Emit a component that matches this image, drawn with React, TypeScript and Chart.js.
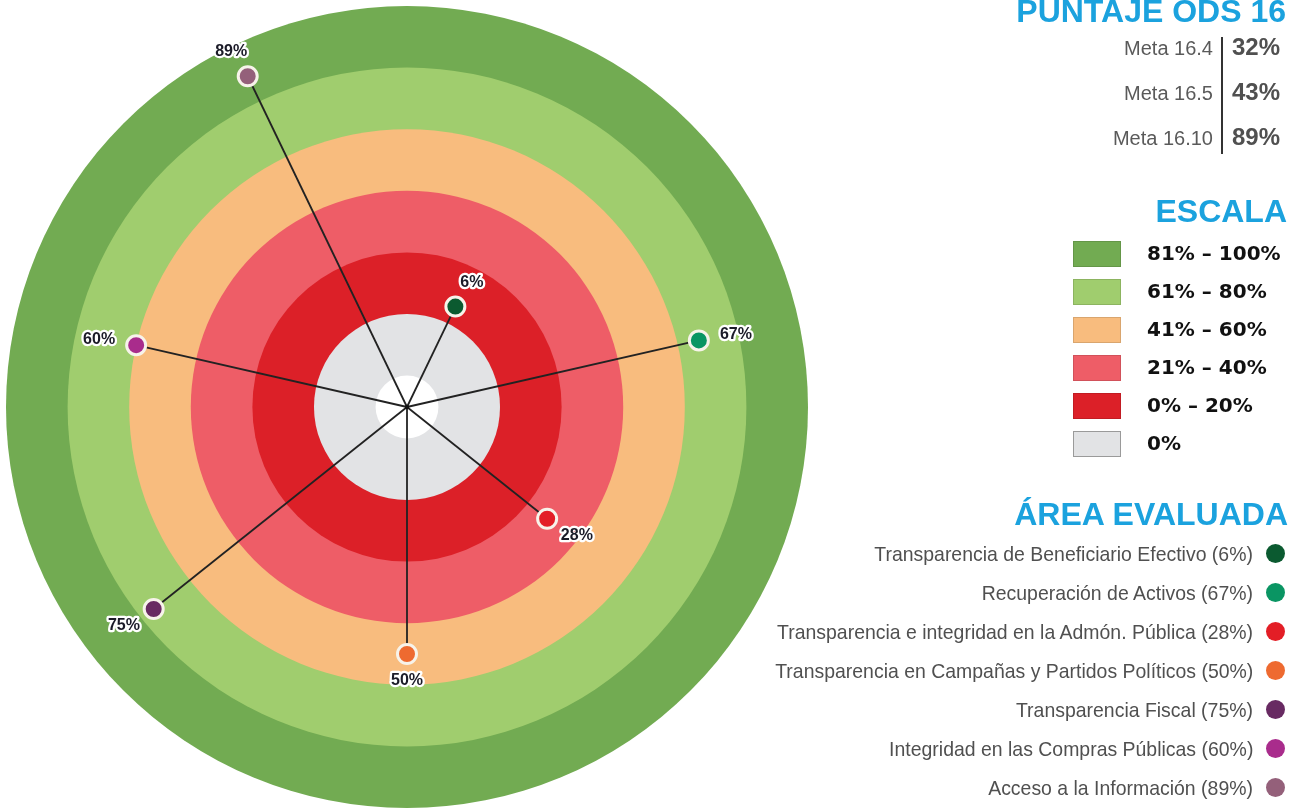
import React, { useEffect, useRef } from "react";
import { Chart, registerables } from "chart.js";

Chart.register(...registerables);

// ---- Data ----
const AREAS = [
  "Transparencia de Beneficiario Efectivo",
  "Recuperación de Activos",
  "Transparencia e integridad en la Admón. Pública",
  "Transparencia en Campañas y Partidos Políticos",
  "Transparencia Fiscal",
  "Integridad en las Compras Públicas",
  "Acceso a la Información",
];
const SCORES = [6, 67, 28, 50, 75, 60, 89];
const AREA_COLORS = ["#0b5a30", "#0a9563", "#e31e26", "#ee6a30", "#682a62", "#a92c8c", "#94607a"];

const META_LABELS = ["Meta 16.4", "Meta 16.5", "Meta 16.10"];
const META_SCORES = [32, 43, 89];

const SCALE_LABELS = ["81% – 100%", "61% – 80%", "41% – 60%", "21% – 40%", "0% – 20%", "0%"];
const SCALE_UPPER = [100, 80, 60, 40, 20, 0];
const SCALE_COLORS = ["#72ab52", "#a0cd6e", "#f8bc7e", "#ee5d67", "#dc2028", "#e2e3e5"];
const HOLE_VALUE = -20;
const AXIS_MIN = -30.2;
const AXIS_MAX = 100;

const FONT = "'Liberation Sans', Arial, sans-serif";

const ringsPlugin = {
  id: "rings",
  beforeDatasetsDraw(chart: any) {
    const s = chart.scales.r;
    const ctx = chart.ctx;
    ctx.save();
    SCALE_UPPER.forEach((v, i) => {
      ctx.beginPath();
      ctx.arc(s.xCenter, s.yCenter, s.getDistanceFromCenterForValue(v), 0, Math.PI * 2);
      ctx.fillStyle = SCALE_COLORS[i];
      ctx.fill();
    });
    ctx.beginPath();
    ctx.arc(s.xCenter, s.yCenter, s.getDistanceFromCenterForValue(HOLE_VALUE), 0, Math.PI * 2);
    ctx.fillStyle = "#ffffff";
    ctx.fill();
    const meta = chart.getDatasetMeta(0);
    ctx.strokeStyle = "#222222";
    ctx.lineWidth = 1.8;
    meta.data.forEach((pt: any) => {
      ctx.beginPath();
      ctx.moveTo(s.xCenter, s.yCenter);
      ctx.lineTo(pt.x, pt.y);
      ctx.stroke();
    });
    ctx.beginPath();
    ctx.arc(s.xCenter, s.yCenter, 2.2, 0, Math.PI * 2);
    ctx.fillStyle = "#111";
    ctx.fill();
    ctx.restore();
  },
  afterDatasetsDraw(chart: any) {
    const s = chart.scales.r;
    const ctx = chart.ctx;
    const meta = chart.getDatasetMeta(0);
    ctx.save();
    ctx.font = "bold 16px " + FONT;
    ctx.textAlign = "center";
    ctx.textBaseline = "middle";
    ctx.lineJoin = "round";
    meta.data.forEach((pt: any, i: number) => {
      const dx = pt.x - s.xCenter;
      const dy = pt.y - s.yCenter;
      const len = Math.hypot(dx, dy) || 1;
      const lx = pt.x + (dx / len) * 38;
      const ly = pt.y + (dy / len) * 27;
      const txt = SCORES[i] + "%";
      ctx.lineWidth = 4.5;
      ctx.strokeStyle = "#ffffff";
      ctx.strokeText(txt, lx, ly);
      ctx.fillStyle = "#1b1b28";
      ctx.fillText(txt, lx, ly);
    });
    ctx.restore();
  },
};

export default function App() {
  const ref = useRef<HTMLCanvasElement | null>(null);

  useEffect(() => {
    if (!ref.current) return;
    const chart = new Chart(ref.current, {
      type: "radar",
      data: {
        labels: AREAS,
        datasets: [
          {
            data: SCORES,
            showLine: false,
            fill: false,
            pointRadius: 9.5,
            pointHoverRadius: 9.5,
            pointBorderWidth: 3,
            pointBorderColor: "#f7f3ea",
            pointBackgroundColor: AREA_COLORS,
          },
        ],
      },
      options: {
        responsive: false,
        maintainAspectRatio: false,
        animation: false,
        layout: { padding: { left: 6, top: 6, right: 482, bottom: 3 } },
        plugins: { legend: { display: false }, tooltip: { enabled: false } },
        scales: {
          r: {
            min: AXIS_MIN,
            max: AXIS_MAX,
            startAngle: 180 - (3 * 360) / AREAS.length,
            ticks: { display: false },
            grid: { display: false },
            angleLines: { display: false },
            pointLabels: { display: false },
          },
        },
      },
      plugins: [ringsPlugin],
    } as any);
    return () => chart.destroy();
  }, []);

  const abs = (o: React.CSSProperties): React.CSSProperties => ({ position: "absolute", whiteSpace: "nowrap", ...o });
  const row = (center: number, fs: number): React.CSSProperties => ({
    top: center - fs / 2,
    height: fs,
    lineHeight: fs + "px",
    fontSize: fs,
  });
  const title: React.CSSProperties = { color: "#1ba2de", fontWeight: "bold", fontFamily: FONT };

  return (
    <div style={{ position: "fixed", left: 0, top: 0, width: 1290, height: 811, overflow: "hidden", background: "#fff", fontFamily: FONT }}>
      <canvas ref={ref} width={1290} height={811} style={{ position: "absolute", left: 0, top: 0, width: 1290, height: 811 }} />

      <div style={abs({ ...title, ...row(11, 32), right: 4 })}>PUNTAJE ODS 16</div>
      {META_LABELS.map((m, i) => (
        <React.Fragment key={m}>
          <div style={abs({ ...row(48 + i * 45, 20), right: 77, color: "#5a5a5a", textAlign: "right" })}>{m}</div>
          <div style={abs({ ...row(47 + i * 45, 24), left: 1232, color: "#505050", fontWeight: "bold" })}>{META_SCORES[i]}%</div>
        </React.Fragment>
      ))}
      <div style={abs({ left: 1221, top: 37, width: 1.5, height: 117, background: "#333" })} />

      <div style={abs({ ...title, ...row(211, 32), right: 3 })}>ESCALA</div>
      {SCALE_LABELS.map((l, i) => (
        <React.Fragment key={l}>
          <div
            style={abs({
              left: 1073,
              top: 241 + i * 38,
              width: 46,
              height: 24,
              background: SCALE_COLORS[i],
              border: "1px solid " + (i === 5 ? "#9a9a9a" : "rgba(0,0,0,0.12)"),
            })}
          />
          <div style={abs({ ...row(253 + i * 38, 20), left: 1147, color: "#111", fontWeight: "bold", fontFamily: "'DejaVu Sans', sans-serif" })}>{l}</div>
        </React.Fragment>
      ))}

      <div style={abs({ ...title, ...row(514, 32), right: 2 })}>ÁREA EVALUADA</div>
      {AREAS.map((a, i) => (
        <React.Fragment key={a}>
          <div
            style={abs({
              ...row(553 + i * 39, 21),
              right: 37,
              color: "#505050",
              textAlign: "right",
              transform: "scaleX(0.926)",
              transformOrigin: "right center",
            })}
          >
            {a} ({SCORES[i]}%)
          </div>
          <div style={abs({ left: 1266, top: 553 + i * 39 - 9.5, width: 19, height: 19, borderRadius: "50%", background: AREA_COLORS[i] })} />
        </React.Fragment>
      ))}
    </div>
  );
}
